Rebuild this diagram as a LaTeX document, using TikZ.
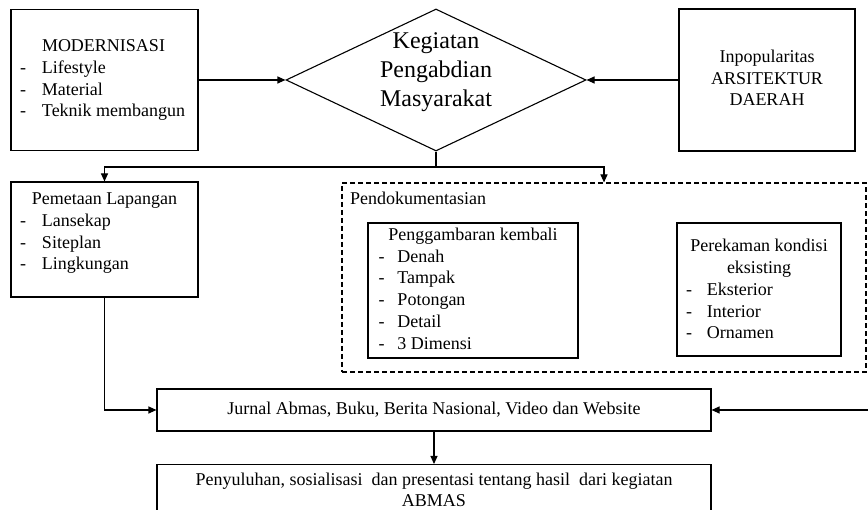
\documentclass[tikz,border=0pt]{standalone}
\usepackage{fontspec}
\setmainfont{Liberation Serif}
\usetikzlibrary{calc, positioning}
\usetikzlibrary{arrows.meta}
\usetikzlibrary{shapes.geometric}

\begin{document}
\begin{tikzpicture}[x=1pt,y=1pt,
  box/.style={draw, line width=1.1pt, inner sep=0pt},
  dbox/.style={draw, line width=1.1pt, dash pattern=on 5pt off 3pt, inner sep=0pt},
  txt/.style={inner sep=0pt, font=\fontsize{18pt}{21.7pt}\selectfont},
  bigtxt/.style={inner sep=0pt, align=center, font=\fontsize{24pt}{29pt}\selectfont},
  arr/.style={-{Triangle[length=8pt,width=7pt]}, line width=1.1pt},
  line/.style={line width=1.1pt}]
\useasboundingbox (0,0) rectangle (868,510);
\clip (0,0) rectangle (868,510);

\coordinate (split) at (436,343);
\coordinate (rin) at (868,100);

\node[box, minimum width=187, minimum height=141] (modern) at (104.5,430) {};
\node[diamond, draw, line width=1.1pt, inner sep=0pt,
      minimum width=300, minimum height=142] (keg) at (436,430) {};
\node[box, minimum width=176, minimum height=142] (inpop) at (767,430) {};
\node[box, minimum width=187, minimum height=115] (pem) at (104.5,270.5) {};
\node[dbox, minimum width=524, minimum height=189] (dok) at (604,232.5) {};
\node[box, minimum width=210, minimum height=135] (gambar) at (473,219.5) {};
\node[box, minimum width=164, minimum height=133] (rekam) at (759,220.5) {};
\node[box, minimum width=554, minimum height=42] (jurnal) at (434,100) {};
\node[box, minimum width=554, minimum height=80, anchor=north] (suluh) at (434,46) {};

\node[txt] at (modern.center) {\begin{tabular}{@{}p{22pt}@{}p{147pt}@{}}
  & MODERNISASI\\
  - & Lifestyle\\
  - & Material\\
  - & Teknik membangun
\end{tabular}};
\node[bigtxt] at ($(keg.center)+(0,7.5)$) {Kegiatan\\Pengabdian\\Masyarakat};
\node[txt, align=center] at ($(inpop.center)+(0,2)$) {Inpopularitas\\ARSITEKTUR\\DAERAH};
\node[txt, anchor=north] at ($(pem.north)+(0,-8)$) {\begin{tabular}{@{}p{22pt}@{}p{147pt}@{}}
  \multicolumn{2}{@{}c@{}}{Pemetaan Lapangan}\\
  - & Lansekap\\
  - & Siteplan\\
  - & Lingkungan
\end{tabular}};
\node[txt, anchor=west] at ($(dok.north west)+(8.5,-15.5)$) {Pendokumentasian};
\node[txt] at (gambar.center) {\begin{tabular}{@{}p{19pt}@{}p{170pt}@{}}
  \multicolumn{2}{@{}c@{}}{Penggambaran kembali}\\
  - & Denah\\
  - & Tampak\\
  - & Potongan\\
  - & Detail\\
  - & 3 Dimensi
\end{tabular}};
\node[txt] at ($(rekam.center)+(0,-1.5)$) {\begin{tabular}{@{}p{21pt}@{}p{125pt}@{}}
  \multicolumn{2}{@{}c@{}}{Perekaman kondisi}\\
  \multicolumn{2}{@{}c@{}}{eksisting}\\
  - & Eksterior\\
  - & Interior\\
  - & Ornamen
\end{tabular}};
\node[txt] at (jurnal.center) {Jurnal Abmas, Buku, Berita Nasional, Video dan Website};
\node[txt, align=center, font=\fontsize{18pt}{20.5pt}\selectfont] at (434,20)
  {Penyuluhan, sosialisasi\ \ dan presentasi tentang hasil\ \ dari kegiatan\\ABMAS};

\draw[arr] (modern.east) -- (keg.west);
\draw[arr] (inpop.west) -- (keg.east);
\draw[line] (keg.south) -- (split);
\draw[arr] (split) -| (pem.north);
\draw[arr] (split) -| (dok.north);
\draw[arr] (pem.south) |- (jurnal.west);
\draw[arr] (rin) -- (jurnal.east);
\draw[arr] (jurnal.south) -- (suluh.north);
\end{tikzpicture}
\end{document}
